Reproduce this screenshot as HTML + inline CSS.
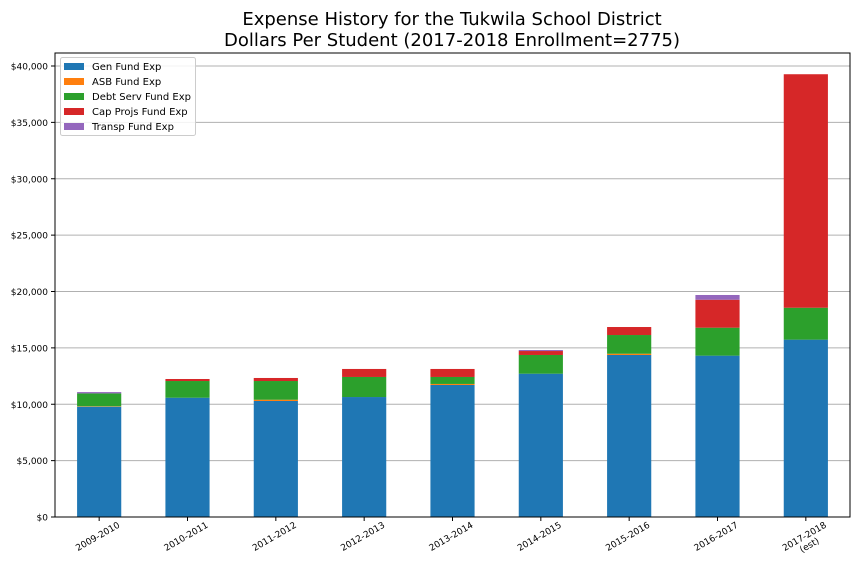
<!DOCTYPE html>
<html><head><meta charset="utf-8"><style>body{margin:0;background:#fff}svg{font-family:"DejaVu Sans","Liberation Sans",sans-serif}</style></head>
<body>
<svg id="chart" width="864" height="576">
<text x="452" y="25" text-anchor="middle" font-size="18">Expense History for the Tukwila School District</text>
<text x="452" y="46" text-anchor="middle" font-size="18">Dollars Per Student (2017-2018 Enrollment=2775)</text>
<g id="grid"></g><g id="bars"></g><g id="axes"></g><g id="legend"></g>
</svg>
<script>
const categories=["2009-2010","2010-2011","2011-2012","2012-2013","2013-2014","2014-2015","2015-2016","2016-2017","2017-2018|(est)"];
const seriesNames=["Gen Fund Exp","ASB Fund Exp","Debt Serv Fund Exp","Cap Projs Fund Exp","Transp Fund Exp"];
const genFund=[9780,10580,10290,10640,11710,12710,14370,14310,15730];
const asbFund=[40,0,110,0,90,0,110,0,0];
const debtFund=[1140,1480,1660,1780,620,1660,1660,2480,2830];
const capFund=[0,180,270,710,710,350,710,2480,20710];
const transpFund=[120,0,0,0,0,90,0,420,0];
const yTicks=[0,5000,10000,15000,20000,25000,30000,35000,40000];
const colors=["#1f77b4","#ff7f0e","#2ca02c","#d62728","#9467bd"];
const NS="http://www.w3.org/2000/svg";
const L=55,R=850,T=53,B=517;
const y=v=>B-v*(451/40000);
const step=(R-L)/categories.length;
const x=i=>L+step*(i+0.5);
function mk(tag,attrs,parent){const e=document.createElementNS(NS,tag);for(const k in attrs)e.setAttribute(k,attrs[k]);parent.appendChild(e);return e;}
const grid=document.getElementById('grid'),bars=document.getElementById('bars'),axes=document.getElementById('axes'),legend=document.getElementById('legend');
yTicks.forEach(t=>{
 const g=mk('line',{x1:L,x2:R,y1:y(t),y2:y(t),stroke:'#b0b0b0','stroke-width':1},grid);
 
 
 const tk=mk('line',{x1:L-4,x2:L,y1:y(t),y2:y(t),stroke:'#000'},axes);
 
 
 const lb=mk('text',{x:L-7,y:y(t)+3.5,'text-anchor':'end','font-size':9},axes);
 lb.textContent='$'+t.toLocaleString('en-US');
 
 
});
const series=[genFund,asbFund,debtFund,capFund,transpFund];
categories.forEach((c,i)=>{
 let base=0;const w=step*0.5;
 series.forEach((s,k)=>{
  const v=s[i];if(v<=0)return;
  const r=mk('rect',{x:x(i)-w/2,y:y(base+v),width:w,height:y(base)-y(base+v),fill:colors[k]},bars);
  
  
  base+=v;
 });
 const tk=mk('line',{x1:x(i),x2:x(i),y1:B,y2:B+4,stroke:'#000'},axes);
 
 
 const parts=c.split('|');
 const t=mk('text',{'text-anchor':'middle','font-size':9,transform:`translate(${x(i)},${B+22}) rotate(-30)`},axes);
 
 
 parts.forEach((p,j)=>{const ts=mk('tspan',{x:0,dy:j?10:0},t);ts.textContent=p;});
});
const fr=mk('rect',{x:L,y:T,width:R-L,height:B-T,fill:'none',stroke:'#000','stroke-width':1},axes);


const lb=mk('rect',{x:60.5,y:57.5,width:135,height:78,fill:'#fff','fill-opacity':0.85,stroke:'#ccc',rx:2},legend);


seriesNames.forEach((n,k)=>{
 const yy=66+k*15;
 const sw=mk('rect',{x:64,y:yy-3,width:20,height:7,fill:colors[k]},legend);
 
 
 const t=mk('text',{x:92,y:yy+4,'font-size':10},legend);
 t.textContent=n;
 
 
});
</script>
</body></html>
